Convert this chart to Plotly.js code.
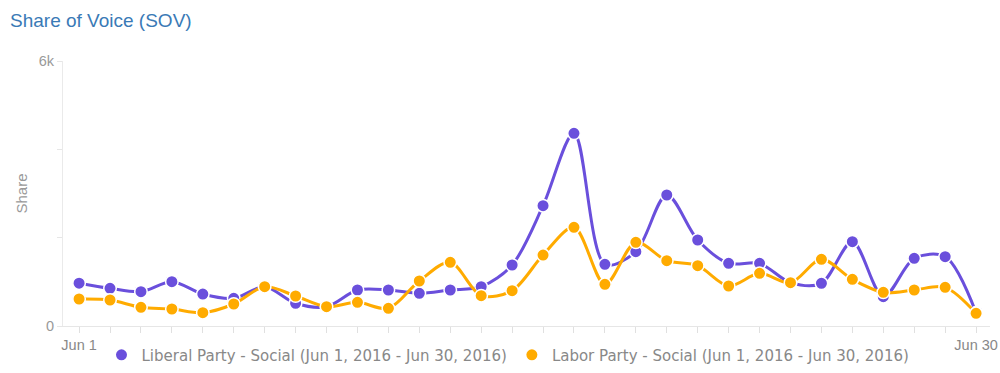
<!DOCTYPE html>
<html>
<head>
<meta charset="utf-8">
<script src="https://cdn.plot.ly/plotly-3.0.1.min.js"></script>
<style>html,body{margin:0;padding:0;background:#fff;}#chart{width:1000px;height:373px;}</style>
</head>
<body>
<div id="chart"></div>
<script>
const days = ["Jun 1","Jun 2","Jun 3","Jun 4","Jun 5","Jun 6","Jun 7","Jun 8","Jun 9","Jun 10",
  "Jun 11","Jun 12","Jun 13","Jun 14","Jun 15","Jun 16","Jun 17","Jun 18","Jun 19","Jun 20",
  "Jun 21","Jun 22","Jun 23","Jun 24","Jun 25","Jun 26","Jun 27","Jun 28","Jun 29","Jun 30"];
const liberal = [970,853,777,1003,724,627,890,514,437,815,
  815,740,815,890,1381,2724,4362,1396,1683,2966,
  1947,1419,1419,981,967,1909,664,1532,1570,300];
const labor = [611,589,423,385,302,498,890,679,437,536,
  400,1019,1442,687,800,1607,2234,943,1894,1479,
  1366,906,1192,981,1509,1056,762,815,876,287];
const seriesNames = ["Liberal Party - Social (Jun 1, 2016 - Jun 30, 2016)",
  "Labor Party - Social (Jun 1, 2016 - Jun 30, 2016)"];
const yTickVals = [0,2000,4000,6000];
const yTickText = ["0","","","6k"];
const xTickText = days.map((d,i)=> (i===0||i===days.length-1)? d : "");

const purple = "#6a4fdc";
const orange = "#ffab00";
function lineTrace(y, color){
  return {x: days, y: y, type:"scatter", mode:"lines+markers", showlegend:false,
    line:{color:color, width:3, shape:"spline", smoothing:0.9},
    marker:{color:color, size:12.5, line:{color:"#fff", width:1.5}}, hoverinfo:"x+y"};
}
function legendTrace(name, color){
  return {x:[null], y:[null], type:"scatter", mode:"markers", name:name,
    marker:{color:color, size:11}};
}
const data = [lineTrace(liberal, purple), lineTrace(labor, orange),
  legendTrace(seriesNames[0], purple), legendTrace(seriesNames[1], orange)];
const layout = {
  width:1000, height:373,
  margin:{l:63, r:10, t:61, b:47, autoexpand:false},
  paper_bgcolor:"#fff", plot_bgcolor:"#fff",
  font:{family:"DejaVu Sans, sans-serif", color:"#999", size:13},
  title:{text:"Share of Voice (SOV)", x:0.01, xanchor:"left", xref:"container", y:0.945, yanchor:"middle", yref:"container",
    font:{family:"Liberation Sans, Arial, sans-serif", size:19, color:"#3a7ab6"}},
  xaxis:{type:"category", range:[-0.52, 29.45], tickvals:days, ticktext:xTickText,
    ticks:"outside", ticklen:6, tickcolor:"#e0e0e0", showgrid:false, zeroline:false,
    showline:true, linecolor:"#e6e6e6", linewidth:1,
    tickfont:{family:"Liberation Sans, Arial, sans-serif", size:14.5, color:"#888"}},
  yaxis:{range:[0,6000], tickvals:yTickVals, ticktext:yTickText, ticks:"outside", ticklen:5,
    tickcolor:"#e6e6e6", showgrid:false, zeroline:false, showline:true, linecolor:"#eaeaea", linewidth:1,
    tickfont:{family:"Liberation Sans, Arial, sans-serif", size:14.5, color:"#999"},
    title:{text:"Share", standoff:7, font:{family:"Liberation Sans, Arial, sans-serif", size:15, color:"#999"}}},
  legend:{orientation:"h", x:0.508, xanchor:"center", xref:"container", y:0.048, yanchor:"middle", yref:"container",
    font:{family:"DejaVu Sans, sans-serif", size:15, color:"#888"}, itemwidth:30, tracegroupgap:0,
    bgcolor:"rgba(0,0,0,0)"},
  hovermode:"closest"
};
Plotly.newPlot("chart", data, layout, {displayModeBar:false, staticPlot:true});
</script>
</body>
</html>
